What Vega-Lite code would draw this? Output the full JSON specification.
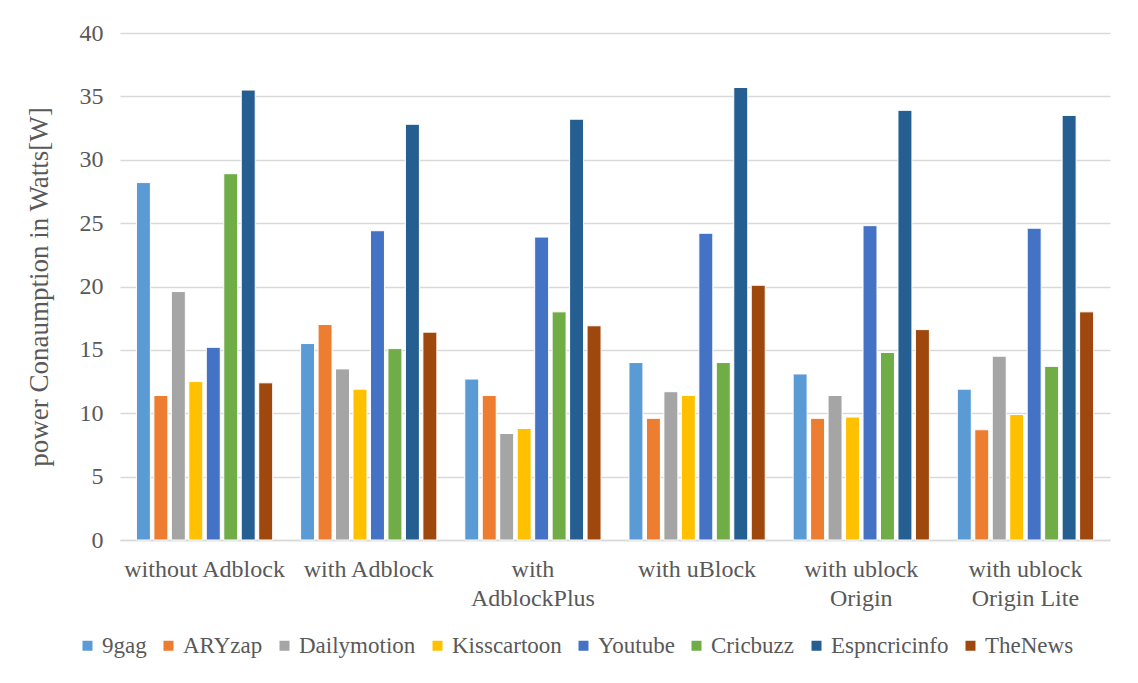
{
  "$schema": "https://vega.github.io/schema/vega-lite/v6.json",
  "width": 990,
  "height": 507,
  "autosize": {"type": "none"},
  "padding": {"left": 120, "top": 33, "right": 28, "bottom": 143},
  "background": "white",
  "data": {
    "values": [
      {"method": "without Adblock", "site": "9gag", "watts": 28.2},
      {"method": "without Adblock", "site": "ARYzap", "watts": 11.4},
      {"method": "without Adblock", "site": "Dailymotion", "watts": 19.6},
      {"method": "without Adblock", "site": "Kisscartoon", "watts": 12.5},
      {"method": "without Adblock", "site": "Youtube", "watts": 15.2},
      {"method": "without Adblock", "site": "Cricbuzz", "watts": 28.9},
      {"method": "without Adblock", "site": "Espncricinfo", "watts": 35.5},
      {"method": "without Adblock", "site": "TheNews", "watts": 12.4},
      {"method": "with Adblock", "site": "9gag", "watts": 15.5},
      {"method": "with Adblock", "site": "ARYzap", "watts": 17.0},
      {"method": "with Adblock", "site": "Dailymotion", "watts": 13.5},
      {"method": "with Adblock", "site": "Kisscartoon", "watts": 11.9},
      {"method": "with Adblock", "site": "Youtube", "watts": 24.4},
      {"method": "with Adblock", "site": "Cricbuzz", "watts": 15.1},
      {"method": "with Adblock", "site": "Espncricinfo", "watts": 32.8},
      {"method": "with Adblock", "site": "TheNews", "watts": 16.4},
      {"method": "with AdblockPlus", "site": "9gag", "watts": 12.7},
      {"method": "with AdblockPlus", "site": "ARYzap", "watts": 11.4},
      {"method": "with AdblockPlus", "site": "Dailymotion", "watts": 8.4},
      {"method": "with AdblockPlus", "site": "Kisscartoon", "watts": 8.8},
      {"method": "with AdblockPlus", "site": "Youtube", "watts": 23.9},
      {"method": "with AdblockPlus", "site": "Cricbuzz", "watts": 18.0},
      {"method": "with AdblockPlus", "site": "Espncricinfo", "watts": 33.2},
      {"method": "with AdblockPlus", "site": "TheNews", "watts": 16.9},
      {"method": "with uBlock", "site": "9gag", "watts": 14.0},
      {"method": "with uBlock", "site": "ARYzap", "watts": 9.6},
      {"method": "with uBlock", "site": "Dailymotion", "watts": 11.7},
      {"method": "with uBlock", "site": "Kisscartoon", "watts": 11.4},
      {"method": "with uBlock", "site": "Youtube", "watts": 24.2},
      {"method": "with uBlock", "site": "Cricbuzz", "watts": 14.0},
      {"method": "with uBlock", "site": "Espncricinfo", "watts": 35.7},
      {"method": "with uBlock", "site": "TheNews", "watts": 20.1},
      {"method": "with ublock Origin", "site": "9gag", "watts": 13.1},
      {"method": "with ublock Origin", "site": "ARYzap", "watts": 9.6},
      {"method": "with ublock Origin", "site": "Dailymotion", "watts": 11.4},
      {"method": "with ublock Origin", "site": "Kisscartoon", "watts": 9.7},
      {"method": "with ublock Origin", "site": "Youtube", "watts": 24.8},
      {"method": "with ublock Origin", "site": "Cricbuzz", "watts": 14.8},
      {"method": "with ublock Origin", "site": "Espncricinfo", "watts": 33.9},
      {"method": "with ublock Origin", "site": "TheNews", "watts": 16.6},
      {"method": "with ublock Origin Lite", "site": "9gag", "watts": 11.9},
      {"method": "with ublock Origin Lite", "site": "ARYzap", "watts": 8.7},
      {"method": "with ublock Origin Lite", "site": "Dailymotion", "watts": 14.5},
      {"method": "with ublock Origin Lite", "site": "Kisscartoon", "watts": 9.9},
      {"method": "with ublock Origin Lite", "site": "Youtube", "watts": 24.6},
      {"method": "with ublock Origin Lite", "site": "Cricbuzz", "watts": 13.7},
      {"method": "with ublock Origin Lite", "site": "Espncricinfo", "watts": 33.5},
      {"method": "with ublock Origin Lite", "site": "TheNews", "watts": 18.0}
    ]
  },
  "mark": {"type": "bar", "stroke": "white", "strokeWidth": 1},
  "encoding": {
    "x": {
      "field": "method",
      "type": "nominal",
      "sort": null,
      "scale": {"paddingInner": 0.17, "paddingOuter": 0.1},
      "axis": {
        "title": null,
        "labelAngle": 0,
        "ticks": false,
        "domain": true,
        "domainColor": "#d9d9d9",
        "domainWidth": 1.5,
        "labelFont": "Liberation Serif",
        "labelFontSize": 24,
        "labelColor": "#595959",
        "labelPadding": 17,
        "labelLineHeight": 29,
        "labelExpr": "datum.label == 'with AdblockPlus' ? ['with', 'AdblockPlus'] : datum.label == 'with ublock Origin' ? ['with ublock', 'Origin'] : datum.label == 'with ublock Origin Lite' ? ['with ublock', 'Origin Lite'] : datum.label"
      }
    },
    "xOffset": {
      "field": "site",
      "type": "nominal",
      "sort": null,
      "scale": {"paddingInner": 0.2}
    },
    "y": {
      "field": "watts",
      "type": "quantitative",
      "scale": {"domain": [0, 40]},
      "axis": {
        "title": "power Conaumption in Watts[W]",
        "titleFont": "Liberation Serif",
        "titleFontSize": 27,
        "titleFontWeight": "normal",
        "titleColor": "#595959",
        "titlePadding": 26,
        "values": [0, 5, 10, 15, 20, 25, 30, 35, 40],
        "labelFont": "Liberation Serif",
        "labelFontSize": 24,
        "labelColor": "#595959",
        "labelPadding": 17,
        "ticks": false,
        "domain": false,
        "grid": true,
        "gridColor": "#d9d9d9",
        "gridWidth": 1.5
      }
    },
    "color": {
      "field": "site",
      "type": "nominal",
      "sort": null,
      "scale": {
        "domain": ["9gag", "ARYzap", "Dailymotion", "Kisscartoon", "Youtube", "Cricbuzz", "Espncricinfo", "TheNews"],
        "range": ["#5b9bd5", "#ed7d31", "#a5a5a5", "#ffc000", "#4472c4", "#70ad47", "#255e91", "#9e480e"]
      },
      "legend": {
        "title": null,
        "orient": "none",
        "legendX": -44,
        "legendY": 601,
        "direction": "horizontal",
        "symbolType": "square",
        "symbolSize": 100,
        "symbolStrokeWidth": 0,
        "labelFont": "Liberation Serif",
        "labelFontSize": 23,
        "labelColor": "#595959",
        "labelOffset": 3,
        "columnPadding": 10
      }
    }
  },
  "config": {
    "view": {"stroke": null}
  }
}
